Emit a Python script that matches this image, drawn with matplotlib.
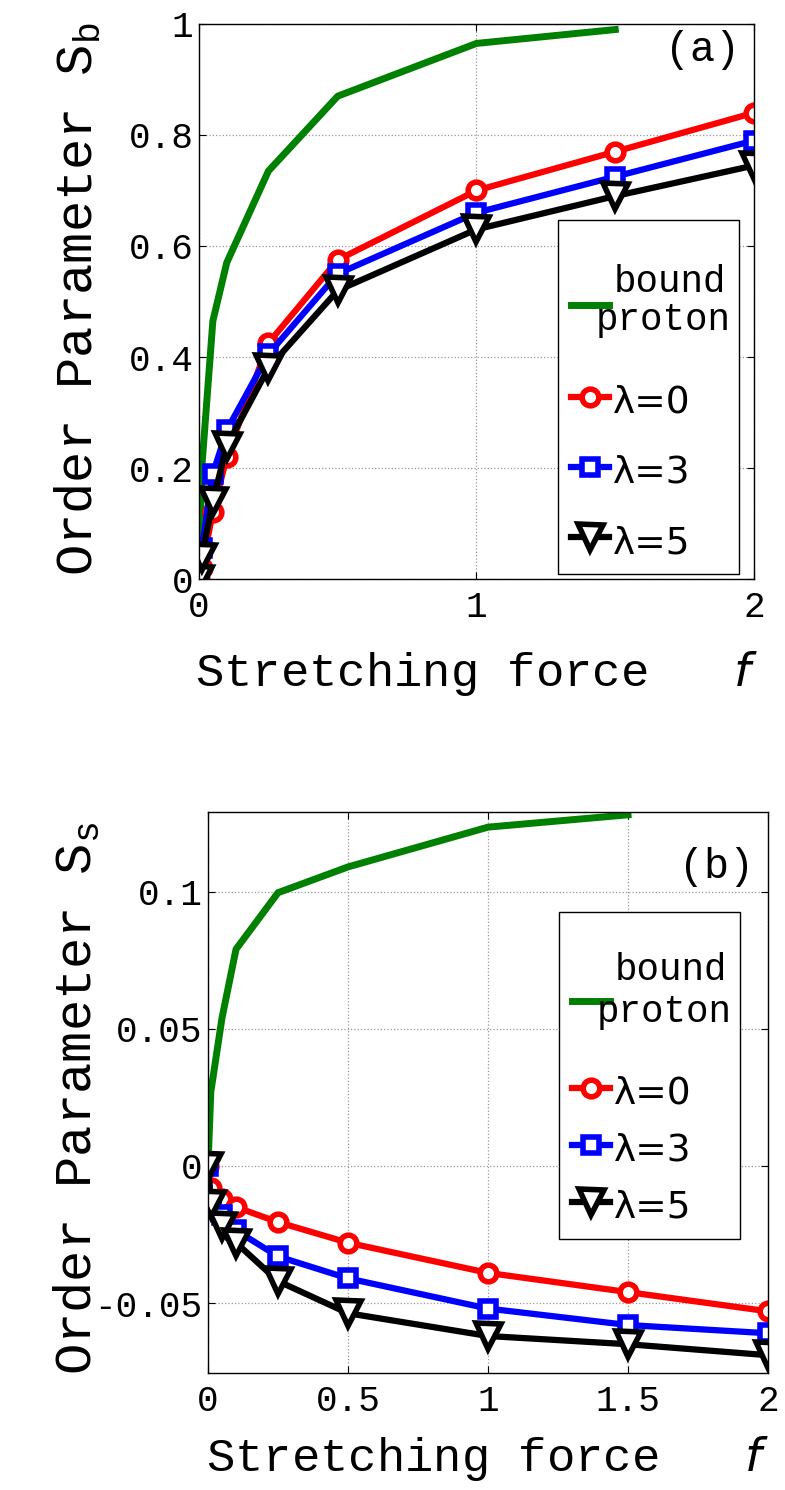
import matplotlib
matplotlib.use('Agg')
import matplotlib.pyplot as plt

plt.rcParams['font.family'] = ['Liberation Mono', 'DejaVu Sans']
plt.rcParams['mathtext.fontset'] = 'custom'
plt.rcParams['mathtext.rm'] = 'Liberation Mono'
plt.rcParams['mathtext.it'] = 'DejaVu Sans:italic'

# panel (a): order parameter S_b
f_bound_a = [0, 0.01, 0.05, 0.1, 0.25, 0.5, 1, 1.5]
sb_bound = [0.0, 0.2, 0.465, 0.57, 0.735, 0.87, 0.965, 0.99]
f_lam = [0, 0.01, 0.05, 0.1, 0.25, 0.5, 1, 1.5, 2]
sb_lam0 = [0, 0.02, 0.12, 0.22, 0.425, 0.575, 0.70, 0.77, 0.84]
sb_lam3 = [0.005, 0.055, 0.19, 0.268, 0.405, 0.55, 0.66, 0.725, 0.79]
sb_lam5 = [0, 0.04, 0.14, 0.24, 0.38, 0.52, 0.63, 0.69, 0.745]

# panel (b): order parameter S_s
f_bound_b = [0, 0.01, 0.05, 0.1, 0.25, 0.5, 1, 1.5]
ss_bound = [0, 0.027, 0.054, 0.079, 0.0996, 0.109, 0.1235, 0.128]
ss_lam0 = [0, -0.008, -0.012, -0.015, -0.0205, -0.028, -0.039, -0.046, -0.053]
ss_lam3 = [0, -0.013, -0.018, -0.0235, -0.033, -0.041, -0.052, -0.058, -0.061]
ss_lam5 = [0, -0.014, -0.022, -0.028, -0.042, -0.0537, -0.062, -0.065, -0.069]

xticks_a = [0, 1, 2]
yticks_a = [0, 0.2, 0.4, 0.6, 0.8, 1]
yticklabels_a = ['0', '0.2', '0.4', '0.6', '0.8', '1']
xticks_b = [0, 0.5, 1, 1.5, 2]
xticklabels_b = ['0', '0.5', '1', '1.5', '2']
yticks_b = [-0.05, 0, 0.05, 0.1]
yticklabels_b = ['-0.05', '0', '0.05', '0.1']

fig = plt.figure(figsize=(7.85, 14.9), dpi=100)
ax1 = fig.add_axes([0.2535, 0.6114, 0.707, 0.3725])
ax2 = fig.add_axes([0.265, 0.0785, 0.7134, 0.3765])

mk = dict(markerfacecolor='white', markeredgewidth=4)


def draw(ax, fb, sb, s0, s3, s5, xpad):
    ax.plot(fb, sb, color='#008000', lw=5, label='bound\n ')
    ax.plot(f_lam, s0, color='red', lw=4.5, marker='o', ms=12,
            markeredgecolor='red', label='λ=0', **mk)
    ax.plot(f_lam, s3, color='blue', lw=4.5, marker='s', ms=12,
            markeredgecolor='blue', label='λ=3', **mk)
    ax.plot(f_lam, s5, color='black', lw=4.5, marker='v', ms=18,
            markeredgecolor='black', label='λ=5', **mk)
    ax.grid(True, linestyle=':', color='#999999', lw=0.9)
    ax.tick_params(direction='in', top=True, right=True, labelsize=26,
                   length=5)
    ax.tick_params(axis='x', pad=8)
    ax.tick_params(axis='y', pad=4)
    for sp in ax.spines.values():
        sp.set_linewidth(1.0)
    ax.set_xlabel('Stretching force   $f$', fontsize=34, labelpad=xpad)


draw(ax1, f_bound_a, sb_bound, sb_lam0, sb_lam3, sb_lam5, 17)
ax1.set_xlim(0, 2)
ax1.set_ylim(0, 1)
ax1.set_xticks(xticks_a)
ax1.set_xticklabels([str(t) for t in xticks_a])
ax1.set_yticks(yticks_a)
ax1.set_yticklabels(yticklabels_a)
ax1.set_ylabel('Order Parameter S$_{\\mathrm{b}}$', fontsize=37.5)
ax1.yaxis.set_label_coords(-0.173, 0.505)
ax1.text(0.975, 0.99, '(a)', transform=ax1.transAxes, ha='right', va='top',
         fontsize=30)

draw(ax2, f_bound_b, ss_bound, ss_lam0, ss_lam3, ss_lam5, 11)
ax2.set_xlim(0, 2)
ax2.set_ylim(-0.0755, 0.129)
ax2.set_xticks(xticks_b)
ax2.set_xticklabels(xticklabels_b)
ax2.set_yticks(yticks_b)
ax2.set_yticklabels(yticklabels_b)
ax2.set_ylabel('Order Parameter S$_{\\mathrm{s}}$', fontsize=37.5)
ax2.yaxis.set_label_coords(-0.19, 0.49)
ax2.text(0.975, 0.937, '(b)', transform=ax2.transAxes, ha='right', va='top',
         fontsize=30)

# spacing, border pad, green line spacing, proton shift, spacer size, anchor
legend_setup = [(ax1, 0.81, 0.35, 1.5, 12, 1, (0.973, 0.647)),
                (ax2, 0.46, 0.35, 2.08, 25, 7, (0.95, 0.822))]
for ax, spacing, bpad, lsp, shift, tsize, anchor in legend_setup:
    leg = ax.legend(loc='upper right', bbox_to_anchor=anchor, fontsize=27,
                    handlelength=1.0, handleheight=1.2, handletextpad=0.13,
                    labelspacing=spacing, borderpad=bpad, fancybox=False,
                    framealpha=1, edgecolor='black', borderaxespad=0,
                    title=' ', title_fontsize=tsize)
    leg.get_frame().set_linewidth(1.0)
    texts = leg.get_texts()
    texts[0].set_linespacing(lsp)
    for t in texts[1:]:
        t.set_fontfamily('DejaVu Sans')
    # second line of the green entry, running back under the handle
    ax.annotate('proton', xy=(1, 0), xycoords=texts[0], xytext=(5, shift),
                textcoords='offset pixels', ha='right', va='bottom',
                fontsize=27, zorder=10)

fig.savefig('out.png', dpi=100)
